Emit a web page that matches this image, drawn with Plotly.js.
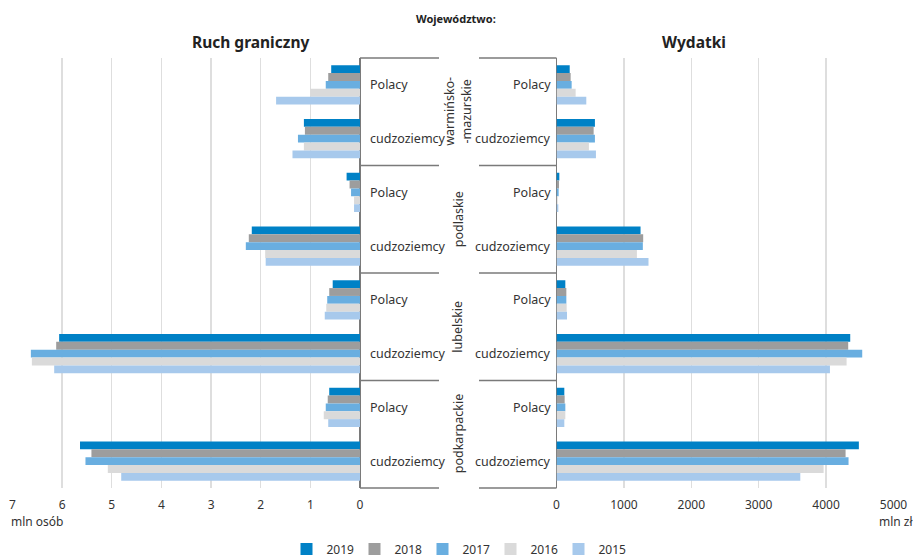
<!DOCTYPE html>
<html><head><meta charset="utf-8">
<script src="https://cdn.plot.ly/plotly-3.0.1.min.js"></script>
<style>html,body{margin:0;padding:0;background:#fff}</style>
</head><body><div id="chart" style="width:913px;height:559px"></div>
<script>
// Data
const voivodeships = ['warmińsko-<br>-mazurskie', 'podlaskie', 'lubelskie', 'podkarpackie'];
const groups = ['Polacy', 'cudzoziemcy'];
const years = ['2019', '2018', '2017', '2016', '2015'];
const colors = ['#0081c6', '#9d9d9d', '#69aee0', '#dadada', '#a7c9ec'];

// Ruch graniczny (mln osób): order W-M Polacy, W-M cudz., podlaskie P, c, lubelskie P, c, podkarpackie P, c
const ruch2019 = [0.58, 1.13, 0.27, 2.18, 0.55, 6.06, 0.62, 5.64];
const ruch2018 = [0.64, 1.11, 0.21, 2.24, 0.62, 6.12, 0.65, 5.41];
const ruch2017 = [0.69, 1.25, 0.18, 2.30, 0.66, 6.63, 0.69, 5.53];
const ruch2016 = [1.00, 1.13, 0.12, 1.91, 0.68, 6.61, 0.73, 5.08];
const ruch2015 = [1.69, 1.36, 0.12, 1.90, 0.71, 6.16, 0.64, 4.81];

// Wydatki (mln zł)
const wyd2019 = [196, 570, 42, 1247, 131, 4358, 116, 4486];
const wyd2018 = [210, 551, 37, 1286, 146, 4328, 121, 4289];
const wyd2017 = [225, 570, 32, 1281, 146, 4536, 131, 4333];
const wyd2016 = [284, 481, 17, 1193, 151, 4304, 131, 3963];
const wyd2015 = [442, 585, 27, 1365, 156, 4057, 116, 3617];

const ruch = [ruch2019, ruch2018, ruch2017, ruch2016, ruch2015];
const wyd = [wyd2019, wyd2018, wyd2017, wyd2016, wyd2015];

const leftTicks = [0, 1, 2, 3, 4, 5, 6, 7];
const rightTicks = [0, 1000, 2000, 3000, 4000, 5000];

// Build
const W = 913, H = 559;
const px = v => v / W;
const FONT = 'Noto Sans, sans-serif';
const cats = [];
voivodeships.forEach(() => groups.forEach(g => cats.push(g)));
const yIdx = cats.map((_, i) => i);

const traces = [];
years.forEach((yr, k) => {
  traces.push({type: 'bar', orientation: 'h', name: yr, legendgroup: yr,
    x: ruch[k], y: yIdx, xaxis: 'x', yaxis: 'y',
    marker: {color: colors[k], line: {width: 0}}, hoverinfo: 'x'});
});
years.forEach((yr, k) => {
  traces.push({type: 'bar', orientation: 'h', name: yr, legendgroup: yr, showlegend: false,
    x: wyd[k], y: yIdx, xaxis: 'x2', yaxis: 'y',
    marker: {color: colors[k], line: {width: 0}}, hoverinfo: 'x'});
});

const annotations = [];
cats.forEach((c, i) => {
  annotations.push({xref: 'paper', yref: 'y', x: px(368), y: i, text: c, showarrow: false,
    xanchor: 'left', yanchor: 'middle', font: {family: FONT, size: 12.5, color: '#333'}});
  annotations.push({xref: 'paper', yref: 'y', x: px(553), y: i, text: c, showarrow: false,
    xanchor: 'right', yanchor: 'middle', font: {family: FONT, size: 12.5, color: '#333'}});
});
voivodeships.forEach((v, i) => {
  annotations.push({xref: 'paper', yref: 'y', x: px(458), y: i * groups.length + (groups.length - 1) / 2,
    text: v, showarrow: false, textangle: -90, xanchor: 'center', yanchor: 'middle',
    font: {family: FONT, size: 12.5, color: '#333'}});
});
annotations.push({xref: 'paper', yref: 'paper', x: px(456), y: 1, yshift: 40, text: '<b>Województwo:</b>',
  showarrow: false, xanchor: 'center', yanchor: 'middle', font: {family: FONT, size: 11, color: '#222'}});
annotations.push({xref: 'paper', yref: 'paper', x: px(250), y: 1, yshift: 16, text: '<b>Ruch graniczny</b>',
  showarrow: false, xanchor: 'center', yanchor: 'middle', font: {family: FONT, size: 15.5, color: '#222'}});
annotations.push({xref: 'paper', yref: 'paper', x: px(694), y: 1, yshift: 16, text: '<b>Wydatki</b>',
  showarrow: false, xanchor: 'center', yanchor: 'middle', font: {family: FONT, size: 15.5, color: '#222'}});
annotations.push({xref: 'paper', yref: 'paper', x: px(9), y: 0, yshift: -33, text: 'mln osób',
  showarrow: false, xanchor: 'left', yanchor: 'middle', font: {family: FONT, size: 12, color: '#333'}});
annotations.push({xref: 'paper', yref: 'paper', x: px(877), y: 0, yshift: -33, text: 'mln zł',
  showarrow: false, xanchor: 'left', yanchor: 'middle', font: {family: FONT, size: 12, color: '#333'}});

const shapes = [];
for (let i = 0; i <= voivodeships.length; i++) {
  const yp = 1 - (i * groups.length) / cats.length;
  shapes.push({type: 'line', xref: 'paper', yref: 'paper', x0: px(360), x1: px(439), y0: yp, y1: yp,
    line: {color: '#7a7a7a', width: 1.5}});
  shapes.push({type: 'line', xref: 'paper', yref: 'paper', x0: px(479), x1: px(556.5), y0: yp, y1: yp,
    line: {color: '#7a7a7a', width: 1.5}});
}

const axisCommon = {showgrid: true, gridcolor: '#dedede', gridwidth: 1.3, zeroline: true,
  zerolinecolor: '#7a7a7a', zerolinewidth: 1.5, showline: false, ticks: '', ticklabelstandoff: 8,
  tickfont: {family: FONT, size: 12, color: '#333'}, fixedrange: true, automargin: false};

const layout = {
  width: W, height: H, autosize: false,
  margin: {l: 0, r: 0, t: 58, b: 71, pad: 0},
  paper_bgcolor: '#fff', plot_bgcolor: 'rgba(0,0,0,0)',
  barmode: 'group', bargap: 0.27, bargroupgap: 0,
  xaxis: Object.assign({}, axisCommon, {domain: [px(12.5), px(360)], range: [7, 0],
    tickvals: leftTicks, anchor: 'y'}),
  xaxis2: Object.assign({}, axisCommon, {domain: [px(556.5), px(893.5)], range: [0, 5000],
    tickvals: rightTicks, anchor: 'y'}),
  yaxis: {domain: [0, 1], range: [cats.length - 0.5, -0.5], showgrid: false, zeroline: false,
    showticklabels: false, ticks: '', showline: false, anchor: 'x', fixedrange: true, automargin: false},
  showlegend: true,
  legend: {orientation: 'h', x: 0.5, xanchor: 'center', xref: 'container', yref: 'container',
    y: 1 - 549 / H, yanchor: 'middle',
    font: {family: FONT, size: 12, color: '#333'}, traceorder: 'normal', itemwidth: 30,
    entrywidth: 23, entrywidthmode: 'pixels'},
  annotations: annotations,
  shapes: shapes,
  font: {family: FONT}
};

Plotly.newPlot('chart', traces, layout, {displayModeBar: false, staticPlot: true});
</script></body></html>
